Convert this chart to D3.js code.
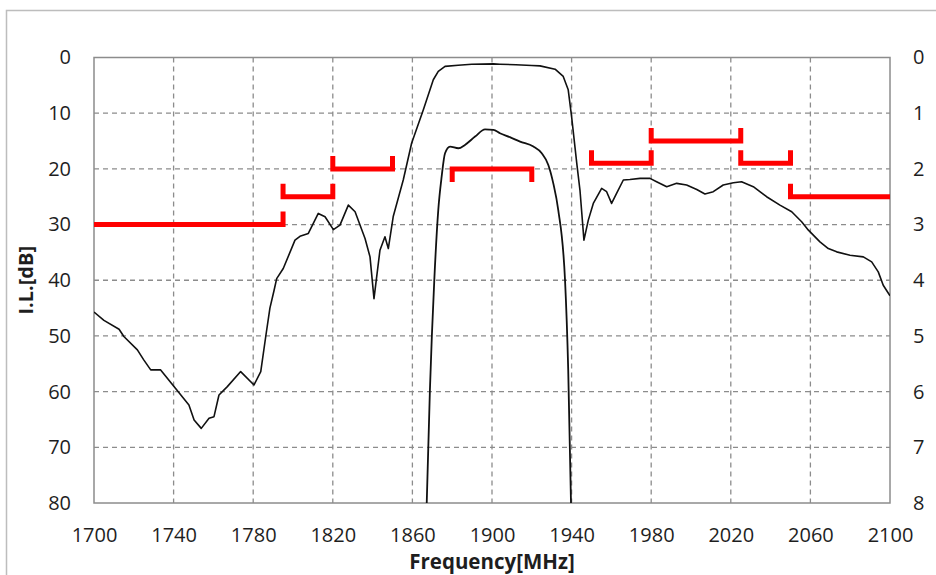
<!DOCTYPE html>
<html>
<head>
<meta charset="utf-8">
<script src="https://cdn.jsdelivr.net/npm/d3@7"></script>
<style>
  body { margin: 0; background: #fff; }
  svg { display: block; font-family: "Open Sans", sans-serif; }
</style>
</head>
<body>
<div id="viz"></div>
<script>
// x axis ticks (MHz) and y ticks
const freqTicks = [1700, 1740, 1780, 1820, 1860, 1900, 1940, 1980, 2020, 2060, 2100];
const ilTicks = [0, 10, 20, 30, 40, 50, 60, 70, 80];
const ilTicksRight = [0, 1, 2, 3, 4, 5, 6, 7, 8];

// wide-band response, left axis [dB]
const wideFreq = [1700, 1705, 1712.6, 1715, 1721.8, 1725, 1728.5, 1733.5, 1740.2, 1747.7, 1750.3, 1753.9,
  1757.8, 1760.3, 1762.8, 1767, 1773.7, 1780.4, 1783.8, 1786.3, 1788.4, 1790.5, 1791.8, 1795.1,
  1801, 1803.5, 1807.7, 1812.7, 1816.1, 1820.3, 1823.6, 1827.8, 1831.2, 1836.2, 1838.7, 1840.7,
  1843.7, 1846.2, 1847.9, 1850.4, 1855.4, 1859.6, 1865.5, 1870.5, 1873, 1876.4, 1883, 1889.8,
  1900.7, 1904, 1912, 1920, 1924.1, 1931.7, 1935.8, 1938.3, 1940, 1942.6, 1944.2, 1946.2,
  1948.4, 1950.9, 1955.1, 1957.6, 1960.1, 1962.6, 1966, 1969.3, 1974.4, 1979.4, 1982.7, 1987.8,
  1992.8, 1997.8, 2002.9, 2007, 2011.2, 2016.2, 2021.3, 2025.4, 2031.3, 2038, 2044.7, 2050.6,
  2055.6, 2059, 2064.8, 2069, 2073.2, 2079.9, 2086.6, 2090.8, 2094.1, 2096.6, 2100];
const wideIL = [45.7, 47.2, 48.8, 50.1, 52.5, 54.3, 56.1, 56.1, 59.1, 62.4, 65.1, 66.6,
  64.8, 64.5, 60.6, 59.1, 56.4, 58.8, 56.4, 50.1, 45, 41.8, 39.7, 37.9,
  32.8, 32.1, 31.6, 28.0, 28.6, 30.9, 30.1, 26.5, 27.7, 32.5, 35.8, 43.3,
  34.6, 32.2, 34.3, 28.5, 22, 15.4, 9.4, 4.0, 2.5, 1.6, 1.4, 1.2,
  1.15, 1.2, 1.3, 1.45, 1.5, 2.1, 3.4, 5.8, 10.6, 19, 23.8, 32.8,
  29.2, 26.2, 23.5, 24.1, 26.2, 24.4, 22.0, 21.9, 21.7, 21.7, 22.3, 23.2,
  22.6, 22.9, 23.7, 24.5, 24.1, 22.9, 22.5, 22.3, 23.2, 25, 26.5, 27.7,
  29.5, 31, 33.1, 34.3, 34.9, 35.5, 35.8, 36.7, 38.5, 40.9, 42.8];

// passband detail, right axis [dB]
const passFreq = [1867.2, 1868.8, 1871, 1873, 1874.7, 1876.4, 1878.9, 1883.1, 1886.4, 1891.5, 1896.5,
  1900.7, 1904, 1909, 1914.1, 1920.8, 1925, 1928.3, 1930.8, 1933.3, 1936.7, 1938.3, 1939.7];
const passIL = [8.0, 5.97, 4.0, 2.74, 2.14, 1.72, 1.60, 1.63, 1.57, 1.42, 1.29,
  1.30, 1.36, 1.43, 1.51, 1.60, 1.72, 1.93, 2.26, 2.74, 4.0, 5.61, 8.0];

// spec masks: start, end, level [dB], kind
const maskFrom = [1700, 1795, 1820, 1880, 1950, 1980, 2025, 2050];
const maskTo = [1795, 1820, 1850, 1920, 1980, 2025, 2050, 2100];
const maskLevel = [30, 25, 20, 20, 19, 15, 19, 25];
const maskKind = ["reject", "reject", "reject", "pass", "reject", "reject", "reject", "reject"];

const width = 936, height = 575;
const plot = {left: 94, right: 890, top: 57.5, bottom: 503};

const svg = d3.select("#viz").append("svg")
  .attr("width", width)
  .attr("height", height);

// chart frame
svg.append("rect")
  .attr("x", 6.5).attr("y", 10.5)
  .attr("width", 950).attr("height", 600)
  .attr("fill", "#fff")
  .attr("stroke", "#bdbdbd")
  .attr("stroke-width", 1.5);

const x = d3.scaleLinear().domain([1700, 2100]).range([plot.left, plot.right]);
const y = d3.scaleLinear().domain([0, 80]).range([plot.top, plot.bottom]);
const y2 = d3.scaleLinear().domain([0, 8]).range([plot.top, plot.bottom]);

// grid
const grid = svg.append("g")
  .attr("stroke", "#8c8c8c")
  .attr("stroke-width", 1.3)
  .attr("stroke-dasharray", "5,4");

grid.selectAll(".vgrid")
  .data(freqTicks.slice(1, -1))
  .join("line")
  .attr("x1", d => x(d)).attr("x2", d => x(d))
  .attr("y1", plot.top).attr("y2", plot.bottom);

grid.selectAll(".hgrid")
  .data(ilTicks.slice(1, -1))
  .join("line")
  .attr("x1", plot.left).attr("x2", plot.right)
  .attr("y1", d => y(d)).attr("y2", d => y(d));

svg.append("rect")
  .attr("x", plot.left).attr("y", plot.top)
  .attr("width", plot.right - plot.left)
  .attr("height", plot.bottom - plot.top)
  .attr("fill", "none")
  .attr("stroke", "#8c8c8c")
  .attr("stroke-width", 1.5);

// axes labels
const axisStyle = g => {
  g.select(".domain").remove();
  g.selectAll(".tick line").remove();
  g.selectAll(".tick text")
    .attr("font-family", "Open Sans, sans-serif")
    .attr("font-size", 20)
    .attr("fill", "#1e1e1e");
};

svg.append("g")
  .attr("transform", `translate(${plot.left - 23},0)`)
  .call(d3.axisLeft(y).tickValues(ilTicks).tickSize(0).tickPadding(0))
  .call(axisStyle);

svg.append("g")
  .attr("transform", `translate(${plot.right + 23},0)`)
  .call(d3.axisRight(y2).tickValues(ilTicksRight).tickSize(0).tickPadding(0))
  .call(axisStyle);

svg.append("g")
  .attr("transform", `translate(0,${plot.bottom + 25})`)
  .call(d3.axisBottom(x).tickValues(freqTicks).tickSize(0).tickPadding(0).tickFormat(d3.format("d")))
  .call(axisStyle);

svg.append("text")
  .attr("x", (plot.left + plot.right) / 2)
  .attr("y", 569)
  .attr("text-anchor", "middle")
  .attr("font-size", 20.5)
  .attr("font-weight", "bold")
  .attr("fill", "#1e1e1e")
  .text("Frequency[MHz]");

svg.append("text")
  .attr("transform", `translate(33,${(plot.top + plot.bottom) / 2}) rotate(-90)`)
  .attr("text-anchor", "middle")
  .attr("font-size", 20)
  .attr("font-weight", "bold")
  .attr("fill", "#1e1e1e")
  .text("I.L.[dB]");

// curves
svg.append("clipPath").attr("id", "clip")
  .append("rect")
  .attr("x", plot.left).attr("y", plot.top)
  .attr("width", plot.right - plot.left)
  .attr("height", plot.bottom - plot.top);

const curves = svg.append("g").attr("clip-path", "url(#clip)");

const wideLine = d3.line().x(d => x(d[0])).y(d => y(d[1]));
const passLine = d3.line().x(d => x(d[0])).y(d => y2(d[1])).curve(d3.curveMonotoneX);

curves.append("path")
  .datum(d3.zip(wideFreq, wideIL))
  .attr("d", wideLine)
  .attr("fill", "none")
  .attr("stroke", "#111")
  .attr("stroke-width", 1.6)
  .attr("stroke-linejoin", "round");

curves.append("path")
  .datum(d3.zip(passFreq, passIL))
  .attr("d", passLine)
  .attr("fill", "none")
  .attr("stroke", "#111")
  .attr("stroke-width", 1.8)
  .attr("stroke-linejoin", "round");

// spec masks
const masks = maskFrom.map((f, i) => ({from: f, to: maskTo[i], level: maskLevel[i], kind: maskKind[i]}));
const tickLen = 13;

svg.append("g")
  .selectAll("path")
  .data(masks)
  .join("path")
  .attr("d", d => {
    const yl = y(d.level);
    const dy = d.kind === "pass" ? tickLen : -tickLen;
    const x0 = x(d.from), x1 = x(d.to);
    const p = d3.path();
    if (d.from > x.domain()[0]) { p.moveTo(x0, yl + dy); p.lineTo(x0, yl); }
    else p.moveTo(x0, yl);
    p.lineTo(x1, yl);
    if (d.to < x.domain()[1]) p.lineTo(x1, yl + dy);
    return p.toString();
  })
  .attr("fill", "none")
  .attr("stroke", "#ff0000")
  .attr("stroke-width", 5)
  .attr("stroke-linejoin", "miter");
</script>
</body>
</html>
